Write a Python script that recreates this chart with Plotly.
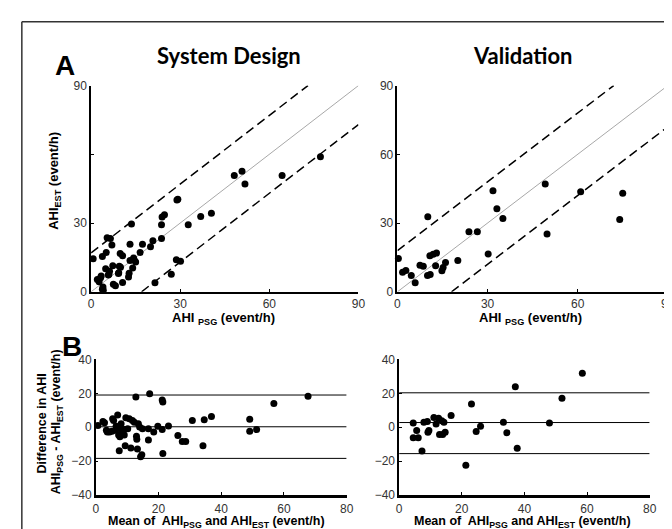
import plotly.graph_objects as go

# ---------------- data ----------------
# Panel A, System Design: AHI_PSG (x) vs AHI_EST (y)
design_psg = [0.7, 2.1, 2.7, 3.4, 4.0, 4.1, 3.8, 5.1, 5.4, 6.5, 7.0, 4.9, 6.2, 7.3, 6.0,
              7.5, 8.2, 9.2, 9.5, 9.8, 10.6, 10.6, 12.6, 12.8, 13.1, 13.6, 13.1, 14.0,
              14.5, 15.0, 16.5, 17.3, 20.0, 20.8, 21.5, 23.7, 23.7, 23.9, 24.7, 27.0,
              28.7, 30.1, 28.9, 29.2, 32.7, 36.9, 40.5, 48.2, 50.8, 51.8, 64.3, 77.2,
              3.2, 3.8, 5.8, 9.3, 9.9, 14.3]
design_est = [14.4, 5.4, 4.4, 6.9, 2.1, 0.7, 15.4, 17.1, 23.6, 23.3, 20.4, 10.1, 9.0, 11.4, 7.6,
              3.3, 2.6, 8.0, 11.1, 16.7, 15.7, 4.0, 6.4, 8.1, 20.7, 29.6, 13.6, 10.4,
              14.0, 13.0, 17.1, 20.7, 19.7, 22.3, 3.9, 23.3, 29.3, 32.6, 33.6, 7.6,
              14.0, 13.3, 40.1, 40.4, 29.3, 32.9, 34.3, 50.7, 52.6, 47.0, 50.7, 58.9,
              6.1, 1.1, 7.3, 8.3, 10.7, 14.7]

# Panel A, Validation
valid_psg = [0.3, 1.7, 2.8, 4.6, 5.9, 7.5, 8.6, 10.0, 10.9, 10.1, 10.8, 11.9, 13.0, 12.7,
             14.8, 15.2, 16.0, 20.1, 23.8, 26.6, 30.2, 31.8, 33.1, 35.1, 49.2, 49.8,
             61.0, 75.0, 74.0]
valid_est = [14.5, 8.5, 9.3, 7.1, 3.9, 11.6, 11.1, 7.1, 7.5, 32.7, 15.7, 16.4, 16.9, 11.4,
             9.2, 10.6, 12.8, 13.7, 26.2, 26.2, 16.5, 44.1, 36.2, 32.0, 47.0, 25.2,
             43.7, 43.0, 31.6]

# Panel B, Bland-Altman, System Design: mean vs difference
ba_design_mean = [2.3, 2.8, 3.4, 3.7, 4.4, 5.2, 5.4, 5.7, 6.3, 7.0, 7.3, 7.5, 7.7, 8.1, 8.6,
                  9.1, 9.6, 10.2, 9.4, 10.7, 11.2, 11.7, 12.3, 12.8, 13.0, 13.1, 13.3, 13.6,
                  14.0, 14.3, 14.7, 14.9, 16.8, 16.8, 17.2, 18.5, 19.8, 21.2, 21.2, 21.4,
                  21.4, 23.2, 26.2, 27.6, 28.7, 30.8, 34.6, 34.2, 36.9, 49.1, 49.1, 51.3,
                  56.8, 67.7, 0.7, 6.5, 8.1, 9.1]
ba_design_diff = [3.4, 2.7, -1.7, -2.7, -2.7, -2.3, 5.0, 4.0, -1.7, 7.3, -4.6, -13.8, -5.6, 2.1,
                  -3.3, -1.3, 5.6, -0.8, -10.9, 5.0, -12.2, 4.0, 2.9, 17.8, -5.2, -7.1, -12.8,
                  2.1, 0.2, -17.4, -16.1, -0.8, -0.8, -7.5, 19.7, -2.7, 0.6, -1.3, 16.1, 14.9,
                  -15.5, 0.8, -4.8, -8.4, -8.4, 4.0, 4.4, -10.9, 6.3, 4.8, -2.3, -1.3,
                  14.0, 18.2, 1.1, 0.6, -1.3, -4.6]

# Panel B, Bland-Altman, Validation
ba_valid_mean = [4.5, 4.5, 5.6, 6.1, 7.3, 7.9, 9.0, 9.2, 9.5, 11.1, 11.8, 12.6, 12.9, 13.6,
                 14.3, 14.7, 13.9, 16.6, 21.3, 23.1, 24.6, 26.0, 33.3, 34.4, 37.1, 37.7,
                 48.0, 52.0, 58.5]
ba_valid_diff = [2.5, -6.1, -1.9, -6.1, -13.9, 2.9, 3.4, -2.9, -1.9, 5.7, 1.9, 5.3, -4.2, 3.8,
                 2.9, -2.9, -4.2, 7.0, -22.3, 13.7, -2.5, 0.6, 2.9, -3.2, 23.8, -12.4,
                 2.5, 17.1, 31.8]

# reference lines
axis_max_a = 90
design_band = 17.0      # dashed offset, System Design scatter
valid_band = 18.0       # dashed offset, Validation scatter
ba_design_lines = [19.0, 0.3, -18.3]   # upper LoA, mean, lower LoA
ba_valid_lines = [20.3, 2.8, -15.5]
ba_xmax = 80

# ---------------- figure ----------------
W, H = 672, 529


def px_x(p):
    return p / W


def px_y(p):
    return 1 - p / H


fig = go.Figure()

BLACK = "black"
TICKFONT = dict(family="Liberation Sans, Arial, sans-serif", size=12, color="#333")


def scatter_panel(xs, ys, band, xa, ya):
    # identity line
    fig.add_trace(go.Scatter(x=[0, axis_max_a], y=[0, axis_max_a], mode="lines",
                             line=dict(color="#a8a8a8", width=1), xaxis=xa, yaxis=ya,
                             showlegend=False, hoverinfo="skip"))
    # upper / lower dashed bands
    fig.add_trace(go.Scatter(x=[0, axis_max_a - band], y=[band, axis_max_a], mode="lines",
                             line=dict(color=BLACK, width=1.5, dash="9px,5px"),
                             xaxis=xa, yaxis=ya, showlegend=False, hoverinfo="skip"))
    fig.add_trace(go.Scatter(x=[band, axis_max_a], y=[0, axis_max_a - band], mode="lines",
                             line=dict(color=BLACK, width=1.5, dash="9px,5px"),
                             xaxis=xa, yaxis=ya, showlegend=False, hoverinfo="skip"))
    fig.add_trace(go.Scatter(x=xs, y=ys, mode="markers",
                             marker=dict(color=BLACK, size=7), cliponaxis=False,
                             xaxis=xa, yaxis=ya, showlegend=False))


def ba_panel(xs, ys, lines, xa, ya):
    for v in lines:
        fig.add_trace(go.Scatter(x=[0, ba_xmax], y=[v, v], mode="lines",
                                 line=dict(color=BLACK, width=1), xaxis=xa, yaxis=ya,
                                 showlegend=False, hoverinfo="skip"))
    fig.add_trace(go.Scatter(x=xs, y=ys, mode="markers",
                             marker=dict(color=BLACK, size=7), cliponaxis=False,
                             xaxis=xa, yaxis=ya, showlegend=False))


scatter_panel(design_psg, design_est, design_band, "x", "y")
scatter_panel(valid_psg, valid_est, valid_band, "x2", "y2")
ba_panel(ba_design_mean, ba_design_diff, ba_design_lines, "x3", "y3")
ba_panel(ba_valid_mean, ba_valid_diff, ba_valid_lines, "x4", "y4")


def xax(dom, anchor, rng, tickvals, lw):
    return dict(domain=dom, anchor=anchor, range=rng, tickvals=tickvals,
                showline=True, linecolor=BLACK, linewidth=lw, ticks="inside",
                ticklen=3, tickcolor=BLACK, showgrid=False, zeroline=False,
                tickfont=TICKFONT, fixedrange=True)


def yax(dom, anchor, rng, tickvals, ticktext=None):
    d = dict(domain=dom, anchor=anchor, range=rng, tickvals=tickvals,
             showline=True, linecolor=BLACK, linewidth=1.5, ticks="inside",
             ticklen=3, tickcolor=BLACK, showgrid=False, zeroline=False,
             tickfont=TICKFONT, fixedrange=True)
    if ticktext is not None:
        d["ticktext"] = ticktext
    return d


a_y_dom = [px_y(284.3), px_y(72.5)]
b_y_dom = [px_y(493.3), px_y(353.7)]

fig.update_layout(
    width=W, height=H, autosize=False,
    margin=dict(l=0, r=0, t=0, b=0),
    paper_bgcolor="white", plot_bgcolor="white",
    xaxis=xax([px_x(81.3), px_x(352.7)], "y", [0, 90], [0, 30, 60, 90], 2),
    yaxis=yax(a_y_dom, "x", [0, 90], [0, 30, 60, 90], ["0", "30", "", "90"]),
    xaxis2=xax([px_x(392.3), px_x(666.7)], "y2", [0, 90], [0, 30, 60, 90], 2),
    yaxis2=yax(a_y_dom, "x2", [0, 90], [0, 30, 60, 90]),
    xaxis3=xax([px_x(86), px_x(340.7)], "y3", [0, 80], [0, 20, 40, 60, 80], 3),
    yaxis3=yax(b_y_dom, "x3", [-40, 40], [-40, -20, 0, 20, 40]),
    xaxis4=xax([px_x(394), px_x(648.3)], "y4", [0, 80], [0, 20, 40, 60, 80], 3),
    yaxis4=yax(b_y_dom, "x4", [-40, 40], [-40, -20, 0, 20, 40]),
)

LBL = dict(family="Liberation Sans, Arial, sans-serif", size=12.5, color="black")
LBL_A = dict(family="Liberation Sans, Arial, sans-serif", size=13, color="black")
TITLE = dict(family="Lato, Open Sans, sans-serif", size=22, color="black")
BIG = dict(family="Liberation Sans, Arial, sans-serif", size=28, color="black")


def ann(text, x, y, font, angle=0):
    fig.add_annotation(text=text, x=px_x(x), y=px_y(y), xref="paper", yref="paper",
                       showarrow=False, font=font, textangle=angle,
                       xanchor="center", yanchor="middle")


ann("<b>A</b>", 55, 52, BIG)
ann("<b>B</b>", 62, 340, BIG)
ann("<b>System Design</b>", 221, 42, TITLE)
ann("<b>Validation</b>", 520, 42, TITLE)
ann("<b>AHI <sub>PSG</sub> (event/h)</b>", 216, 312, LBL_A)
ann("<b>AHI <sub>PSG</sub> (event/h)</b>", 527, 312, LBL_A)
ann("<b>AHI<sub>EST</sub> (event/h)</b>", 44, 170, LBL_A, -90)
ann("<b>Difference in AHI</b>", 31, 420, LBL, -90)
ann("<b>AHI<sub>PSG</sub> - AHI<sub>EST</sub> (event/h)</b>", 47, 418, LBL, -90)
ann("<b>Mean of  AHI<sub>PSG</sub> and AHI<sub>EST</sub> (event/h)</b>", 209, 520.5, LBL)
ann("<b>Mean of  AHI<sub>PSG</sub> and AHI<sub>EST</sub> (event/h)</b>", 519, 520.5, LBL)

# figure frame (left and top edges)
fig.add_shape(type="line", xref="paper", yref="paper", x0=px_x(11), x1=px_x(11),
              y0=0, y1=px_y(7), line=dict(color="#333", width=1.5))
fig.add_shape(type="line", xref="paper", yref="paper", x0=px_x(11), x1=1,
              y0=px_y(7), y1=px_y(7), line=dict(color="#333", width=1.5))

fig.write_html("out.html")
